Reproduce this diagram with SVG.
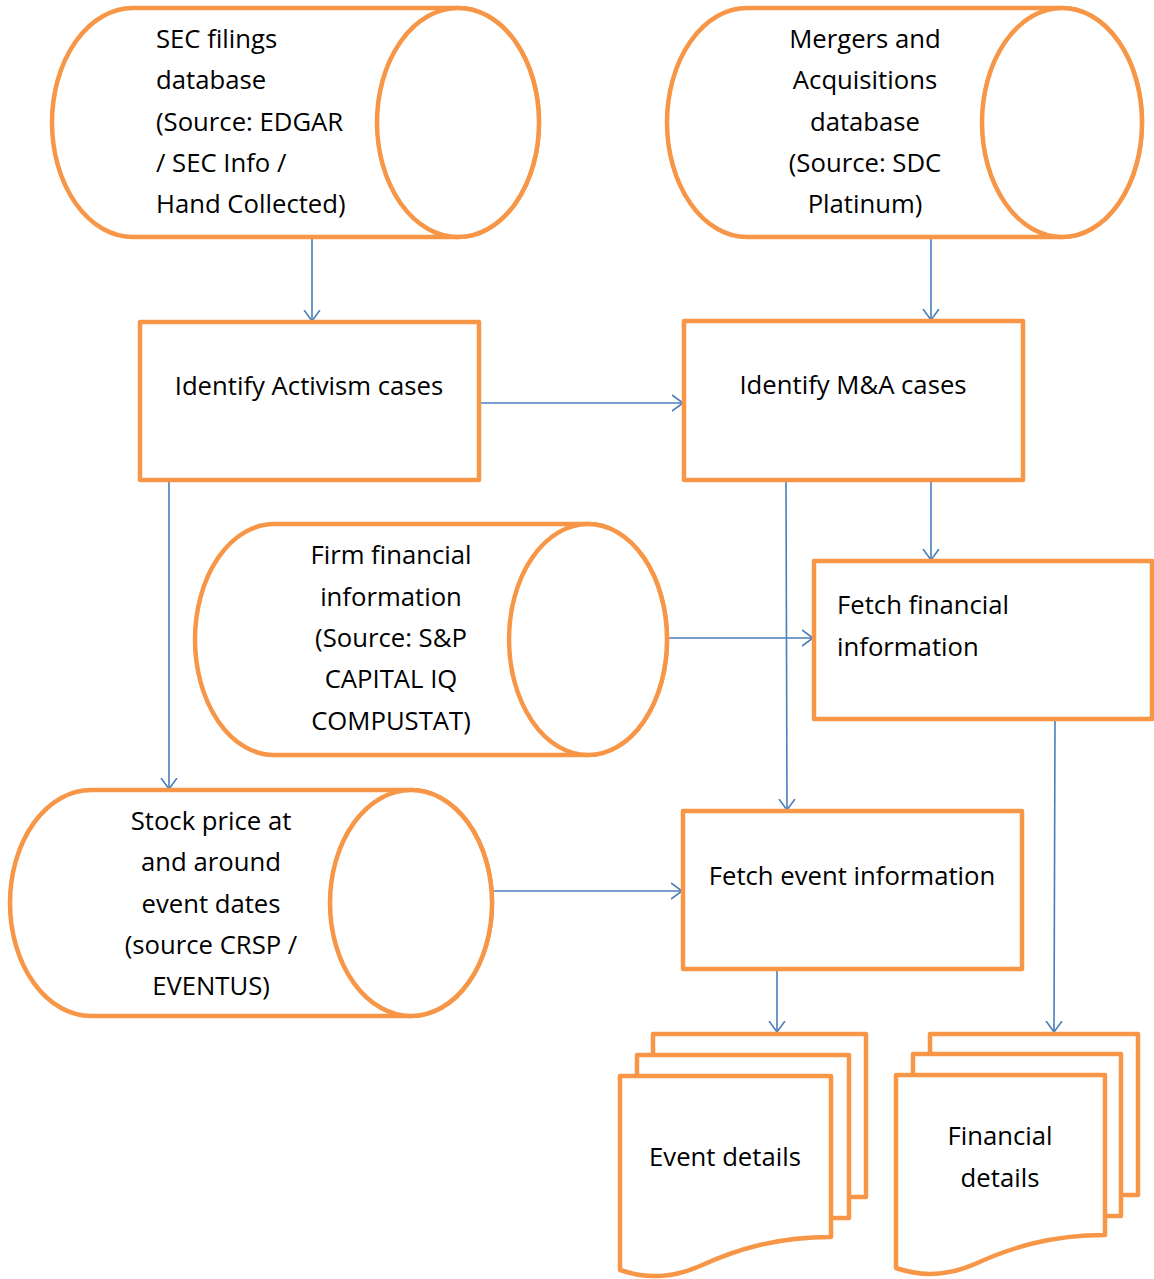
<svg xmlns="http://www.w3.org/2000/svg" width="1154" height="1279" viewBox="0 0 1154 1279">
  <style>
    .shape { fill: #ffffff; stroke: #F79646; stroke-width: 4.5; stroke-linejoin: round; }
    .edge { fill: none; stroke: #4A7EBB; stroke-width: 1.6; }
    .label { font-family: "Open Sans", "Liberation Sans", sans-serif; font-size: 25.7px; fill: #000000; }
    .mid { text-anchor: middle; }
  </style>
  <defs>
    <marker id="open-arrow" viewBox="0 0 12 18" refX="11" refY="9" markerWidth="12" markerHeight="18" markerUnits="userSpaceOnUse" orient="auto">
      <path d="M0,1 L11,9 L0,17" fill="none" stroke="#4A7EBB" stroke-width="1.6"/>
    </marker>
  </defs>

  <!-- connectors -->
  <g id="connectors">
    <line class="edge" x1="312" y1="237" x2="312" y2="321" marker-end="url(#open-arrow)"/>
    <line class="edge" x1="931" y1="237" x2="931" y2="320" marker-end="url(#open-arrow)"/>
    <line class="edge" x1="480" y1="403" x2="683" y2="403" marker-end="url(#open-arrow)"/>
    <line class="edge" x1="169" y1="481" x2="169" y2="789" marker-end="url(#open-arrow)"/>
    <line class="edge" x1="931" y1="481" x2="931" y2="560" marker-end="url(#open-arrow)"/>
    <line class="edge" x1="786" y1="482" x2="787" y2="810" marker-end="url(#open-arrow)"/>
    <line class="edge" x1="668" y1="638" x2="813" y2="638" marker-end="url(#open-arrow)"/>
    <line class="edge" x1="1055" y1="720" x2="1054" y2="1032" marker-end="url(#open-arrow)"/>
    <line class="edge" x1="493" y1="891" x2="682" y2="891" marker-end="url(#open-arrow)"/>
    <line class="edge" x1="777" y1="970" x2="777" y2="1032" marker-end="url(#open-arrow)"/>
  </g>

  <!-- SEC filings database -->
  <g id="sec-db">
    <path class="shape" d="M133,8 H458 A81,114.5 0 0 1 458,237 H133 A81,114.5 0 0 1 133,8 Z"/>
    <ellipse class="shape" cx="458" cy="122.5" rx="81" ry="114.5"/>
    <text class="label" x="156" y="48">SEC filings</text>
    <text class="label" x="156" y="89">database</text>
    <text class="label" x="156" y="131">(Source: EDGAR</text>
    <text class="label" x="156" y="172">/ SEC Info /</text>
    <text class="label" x="156" y="213">Hand Collected)</text>
  </g>

  <!-- Mergers and Acquisitions database -->
  <g id="ma-db">
    <path class="shape" d="M747,8 H1062 A80,114.5 0 0 1 1062,237 H747 A80,114.5 0 0 1 747,8 Z"/>
    <ellipse class="shape" cx="1062" cy="122.5" rx="80" ry="114.5"/>
    <text class="label mid" x="865" y="48">Mergers and</text>
    <text class="label mid" x="865" y="89">Acquisitions</text>
    <text class="label mid" x="865" y="131">database</text>
    <text class="label mid" x="865" y="172">(Source: SDC</text>
    <text class="label mid" x="865" y="213">Platinum)</text>
  </g>

  <!-- Identify Activism cases -->
  <g id="identify-activism">
    <rect class="shape" x="140" y="322" width="339" height="158"/>
    <text class="label mid" x="309" y="395">Identify Activism cases</text>
  </g>

  <!-- Identify M&A cases -->
  <g id="identify-ma">
    <rect class="shape" x="684" y="321" width="339" height="159"/>
    <text class="label mid" x="853" y="394">Identify M&amp;A cases</text>
  </g>

  <!-- Firm financial information -->
  <g id="firm-db">
    <path class="shape" d="M274,524 H588 A79,115.5 0 0 1 588,755 H274 A79,115.5 0 0 1 274,524 Z"/>
    <ellipse class="shape" cx="588" cy="639.5" rx="79" ry="115.5"/>
    <text class="label mid" x="391" y="564">Firm financial</text>
    <text class="label mid" x="391" y="606">information</text>
    <text class="label mid" x="391" y="647">(Source: S&amp;P</text>
    <text class="label mid" x="391" y="688">CAPITAL IQ</text>
    <text class="label mid" x="391" y="730">COMPUSTAT)</text>
  </g>

  <!-- Fetch financial information -->
  <g id="fetch-financial">
    <rect class="shape" x="814" y="561" width="338" height="158"/>
    <text class="label" x="837" y="614">Fetch financial</text>
    <text class="label" x="837" y="656">information</text>
  </g>

  <!-- Stock price database -->
  <g id="stock-db">
    <path class="shape" d="M91,790 H411 A81,113 0 0 1 411,1016 H91 A81,113 0 0 1 91,790 Z"/>
    <ellipse class="shape" cx="411" cy="903" rx="81" ry="113"/>
    <text class="label mid" x="211" y="830">Stock price at</text>
    <text class="label mid" x="211" y="871">and around</text>
    <text class="label mid" x="211" y="913">event dates</text>
    <text class="label mid" x="211" y="954">(source CRSP /</text>
    <text class="label mid" x="211" y="995">EVENTUS)</text>
  </g>

  <!-- Fetch event information -->
  <g id="fetch-event">
    <rect class="shape" x="683" y="811" width="339" height="158"/>
    <text class="label mid" x="852" y="885">Fetch event information</text>
  </g>

  <!-- Event details (stacked documents) -->
  <g id="event-details">
    <path class="shape" d="M653,1034 H866 V1197 H653 Z"/>
    <path class="shape" d="M637,1055 H849 V1218 H637 Z"/>
    <path class="shape" d="M620,1076 H831 V1237 C775,1237 735,1250 700,1266 C675,1277 650,1280 620,1270 Z"/>
    <text class="label mid" x="725" y="1166">Event details</text>
  </g>

  <!-- Financial details (stacked documents) -->
  <g id="financial-details">
    <path class="shape" d="M930,1034 H1138 V1195 H930 Z"/>
    <path class="shape" d="M913,1054 H1121 V1216 H913 Z"/>
    <path class="shape" d="M896,1075 H1105 V1235 C1050,1235 1010,1248 975,1264 C950,1275 925,1278 896,1268 Z"/>
    <text class="label mid" x="1000" y="1145">Financial</text>
    <text class="label mid" x="1000" y="1187">details</text>
  </g>
</svg>
